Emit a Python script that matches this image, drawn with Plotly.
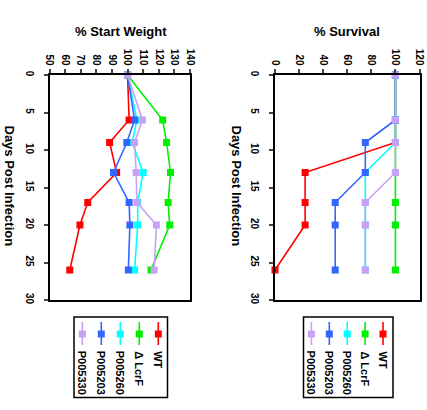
import plotly.graph_objects as go

W, H = 427, 410

series_names = ["WT", "Δ LcrF", "P005260", "P005203", "P005330"]
colors = ["#ff0000", "#00f000", "#00ffff", "#3366ff", "#c8a0f5"]

days = [0, 6, 9, 13, 17, 20, 26]

weight_wt = [100, 101, 88.5, 93, 74.5, 69.5, 63]
weight_lcrf = [100, 122.5, 125, 127.5, 126, 127, 115]
weight_p005260 = [100, 106, 103, 110, 106.5, 106.5, 104.5]
weight_p005203 = [100, 104.5, 99.5, 91, 101, 101.5, 100.5]
weight_p005330 = [100, 109.5, 104.5, 105.5, 106, 118.5, 117]

surv_wt = [100, 100, 100, 25, 25, 25, 0]
surv_lcrf = [100, 100, 100, 100, 100, 100, 100]
surv_p005260 = [100, 100, 100, 75, 75, 75, 75]
surv_p005203 = [100, 100, 75, 75, 50, 50, 50]
surv_p005330 = [100, 100, 100, 100, 75, 75, 75]

weight_ticks = [50, 60, 70, 80, 90, 100, 110, 120, 130, 140]
surv_ticks = [0, 20, 40, 60, 80, 100, 120]
day_ticks = [0, 5, 10, 15, 20, 25, 30]

weights = [weight_wt, weight_lcrf, weight_p005260, weight_p005203, weight_p005330]
survs = [surv_wt, surv_lcrf, surv_p005260, surv_p005203, surv_p005330]


def px(x):
    return x / W


def py(y):
    return 1 - y / H


FONT = "Liberation Sans, Arial, sans-serif"

fig = go.Figure()
for name, col, vals in zip(series_names, colors, weights):
    fig.add_trace(go.Scatter(x=vals, y=days, mode="lines+markers", name=name,
                             line=dict(color=col, width=1.6),
                             marker=dict(symbol="square", size=7, color=col),
                             xaxis="x", yaxis="y", showlegend=False, cliponaxis=False))
for name, col, vals in zip(series_names, colors, survs):
    fig.add_trace(go.Scatter(x=vals, y=days, mode="lines+markers", name=name,
                             line=dict(color=col, width=1.6),
                             marker=dict(symbol="square", size=7, color=col),
                             xaxis="x2", yaxis="y2", showlegend=False, cliponaxis=False))

tickfont = dict(family=FONT, size=10, color="black", weight="bold")
ydom = [py(300), py(75)]
common_x = dict(side="top", tickangle=90, ticks="outside", ticklen=4, tickwidth=1.5,
                showline=True, linewidth=2, linecolor="black", mirror=True,
                showgrid=False, zeroline=False, tickfont=tickfont, automargin=False)
common_y = dict(range=[30, 0], tickvals=day_ticks, tickangle=90, ticks="outside",
                ticklen=4, tickwidth=1.5, showline=True, linewidth=2,
                linecolor="black", mirror=True, showgrid=False, zeroline=False,
                tickfont=tickfont, domain=ydom, ticklabelstandoff=6, automargin=False)

fig.update_layout(
    width=W, height=H, margin=dict(l=0, r=0, t=0, b=0, autoexpand=False),
    plot_bgcolor="white", paper_bgcolor="white", showlegend=False,
    xaxis=dict(domain=[px(49.5), px(190)], range=[50, 140], tickvals=weight_ticks,
               anchor="y", **common_x),
    yaxis=dict(anchor="x", **common_y),
    xaxis2=dict(domain=[px(275), px(419.5)], range=[0, 120], tickvals=surv_ticks,
                anchor="y2", **common_x),
    yaxis2=dict(anchor="x2", **common_y),
)

titlefont = dict(family=FONT, size=13, color="black", weight="bold")
ann = [
    dict(text="% Start Weight", x=px(121), y=py(32)),
    dict(text="% Survival", x=px(347), y=py(32)),
]
for a in ann:
    fig.add_annotation(xref="paper", yref="paper", showarrow=False, font=titlefont,
                       xanchor="center", yanchor="middle", **a)
for xc in (8.5, 235.5):
    fig.add_annotation(text="Days Post Infection", xref="paper", yref="paper",
                       x=px(xc), y=py(186), showarrow=False, textangle=90,
                       font=titlefont, xanchor="center", yanchor="middle")

# Manual rotated legends
legfont = dict(family=FONT, size=11, color="black", weight="bold")
legends = [
    dict(box=(74, 317, 167.5, 397.5), x_wt=158.3, step=19.0),
    dict(box=(303.5, 317, 393, 397.5), x_wt=383.0, step=17.9),
]
for lg in legends:
    x0, y0, x1, y1 = lg["box"]
    fig.add_shape(type="rect", xref="paper", yref="paper",
                  x0=px(x0), y0=py(y1), x1=px(x1), y1=py(y0),
                  line=dict(color="black", width=1.5), fillcolor="white", layer="above")
    for i, (name, col) in enumerate(zip(series_names, colors)):
        cx = lg["x_wt"] - i * lg["step"]
        fig.add_shape(type="line", xref="paper", yref="paper",
                      x0=px(cx), x1=px(cx), y0=py(322), y1=py(345),
                      line=dict(color=col, width=1.6), layer="above")
        fig.add_shape(type="rect", xref="paper", yref="paper",
                      x0=px(cx - 3.5), x1=px(cx + 3.5), y0=py(337.5), y1=py(330.5),
                      line=dict(width=0), fillcolor=col, layer="above")
        fig.add_annotation(text=name, xref="paper", yref="paper", x=px(cx), y=py(349),
                           showarrow=False, textangle=90, font=legfont,
                           xanchor="center", yanchor="top")

fig.write_html("out.html", config={"displayModeBar": False},
               post_script="document.body.style.margin='0';document.body.style.overflow='hidden';")
